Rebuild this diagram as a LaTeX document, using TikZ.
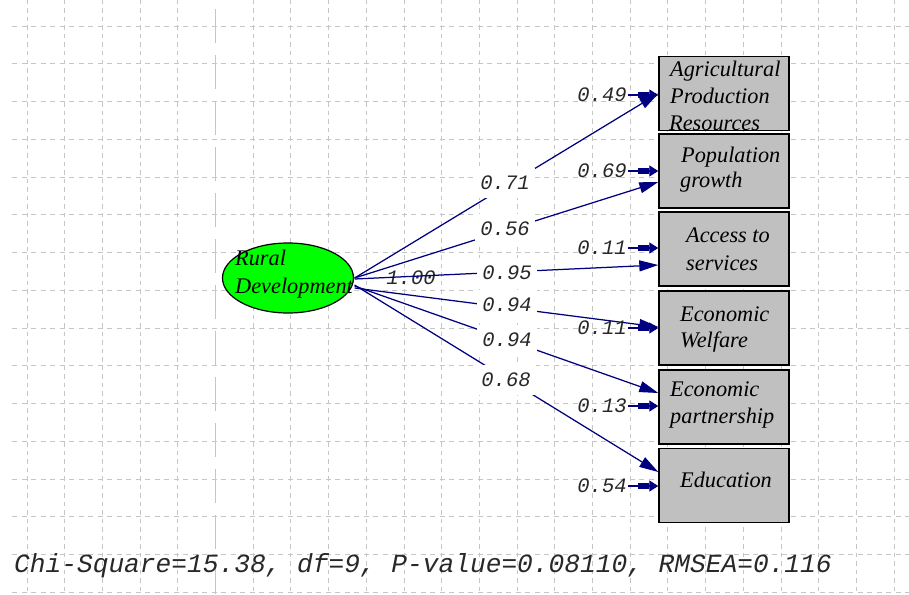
\documentclass[tikz,border=0pt]{standalone}
\usepackage{fontspec}
\setmainfont{Liberation Serif}
\setmonofont{Liberation Mono}
\usetikzlibrary{arrows.meta,shapes.geometric,calc}
\definecolor{boxgray}{RGB}{192,192,192}
\definecolor{pathblue}{RGB}{0,0,128}
\definecolor{gridgray}{RGB}{198,198,198}
\definecolor{latentgreen}{RGB}{0,255,0}
\definecolor{numink}{RGB}{40,40,40}
\newcommand\obsfont{\fontsize{22.3}{27}\selectfont\itshape}
\newcommand\coeffont{\fontsize{20.5}{24}\selectfont\ttfamily\itshape}
\newcommand\fitfont{\fontsize{26.2}{30}\selectfont\ttfamily\itshape}
\begin{document}
\begin{tikzpicture}[x=1pt,y=-1pt,
  gridh/.style={draw=gridgray,line width=0.9pt,dash pattern=on 5pt off 4.5pt},
  gridv/.style={draw=gridgray,line width=0.9pt,dash pattern=on 4.5pt off 4pt},
  gridpage/.style={draw=gridgray,line width=1.4pt,dash pattern=on 34pt off 12pt,dash phase=-9pt},
  latent/.style={ellipse,draw=black,line width=1.2pt,fill=latentgreen,
    minimum width=131pt,minimum height=70pt,inner sep=0pt},
  obsbox/.style={rectangle,draw=black,line width=1.4pt,fill=boxgray,
    minimum width=130pt,minimum height=74pt,inner sep=0pt},
  vartext/.style={anchor=base west,inner sep=0pt,font=\obsfont,text=black},
  coefplain/.style={inner sep=0pt,font=\coeffont,text=numink},
  coef/.style={coefplain,fill=white,minimum width=60pt,minimum height=30pt},
  errlabel/.style={coefplain,inner xsep=1pt},
  loading/.style={draw=pathblue,line width=1.25pt,
    -{Triangle[length=19pt,width=11pt]}},
  errarrow/.style={draw=pathblue,line width=1.25pt,
    -{Rectangle[length=11pt,width=6pt]Triangle[length=9pt,width=11pt]}},
  fitline/.style={anchor=base west,inner sep=0pt,font=\fitfont,text=numink}
]
\useasboundingbox (0,0) rectangle (909,594);
\fill[white] (0,0) rectangle (909,594);

% dashed background grid
\foreach \i in {0,...,4,6,7,...,23}
  \draw[gridv] ({27+37.7*\i},0) -- ({27+37.7*\i},594);
\draw[gridpage] ({27+37.7*5},0) -- ({27+37.7*5},594);
\foreach \j in {0,...,15}
  \draw[gridh] (12,{26+37.75*\j}) -- (909,{26+37.75*\j});

% latent variable
\node[latent] (rd) at (288,278) {};
\node[vartext] (rd1) at (235,265) {Rural};
\node[vartext] (rd2) at (235,293) {Development};
\node[coefplain] (var) at (411,278) {1.00};

% observed indicators
\node[obsbox] (b1) at (724,93.5) {};
\node[obsbox] (b2) at (724,171) {};
\node[obsbox] (b3) at (724,249) {};
\node[obsbox] (b4) at (724,328) {};
\node[obsbox] (b5) at (724,407) {};
\node[obsbox] (b6) at (724,485.5) {};

\begin{scope}
  \clip (b1.south west) rectangle (b1.north east);
  \node[vartext] (t1a) at (670,76) {Agricultural};
  \node[vartext] (t1b) at (670,103) {Production};
  \node[vartext] (t1c) at (669,130) {Resources};
\end{scope}
\node[vartext] (t2a) at (681,162) {Population};
\node[vartext] (t2b) at (680,187) {growth};
\node[vartext] (t3a) at (686,242) {Access to};
\node[vartext] (t3b) at (686,270) {services};
\node[vartext] (t4a) at (680,321) {Economic};
\node[vartext] (t4b) at (680,347) {Welfare};
\node[vartext] (t5a) at (670,396) {Economic};
\node[vartext] (t5b) at (670,423) {partnership};
\node[vartext] (t6a) at (680,487) {Education};

% start and end points of the loading paths
\coordinate (s1) at ($(rd.east)+(0.5,0)$);
\coordinate (s2) at ($(rd.east)+(0.5,0)$);
\coordinate (s3) at ($(rd.east)+(0.5,1)$);
\coordinate (s4) at ($(rd.east)+(0.5,10)$);
\coordinate (s5) at ($(rd.east)+(0.5,8)$);
\coordinate (s6) at ($(rd.east)+(0.5,7)$);
\coordinate (p1) at (b1.west);
\coordinate (p2) at ($(b2.west)+(0,11)$);
\coordinate (p3) at ($(b3.west)+(0,16)$);
\coordinate (p4) at ($(b4.west)+(0,-1)$);
\coordinate (p5) at ($(b5.west)+(0,-14)$);
\coordinate (p6) at ($(b6.west)+(0,-13.5)$);

\draw[loading] (s1) -- (p1);
\draw[loading] (s2) -- (p2);
\draw[loading] (s3) -- (p3);
\draw[loading] (s4) -- (p4);
\draw[loading] (s5) -- (p5);
\draw[loading] (s6) -- (p6);

% loadings
\node[coef] (c1) at (505,183) {0.71};
\node[coef] (c2) at (505,229) {0.56};
\node[coef] (c3) at (507,273) {0.95};
\node[coef] (c4) at (507,305) {0.94};
\node[coef] (c5) at (507,340) {0.94};
\node[coef] (c6) at (506,380) {0.68};

% error variances
\node[errlabel] (e1) at (602,95) {0.49};
\node[errlabel] (e2) at (602,171) {0.69};
\node[errlabel] (e3) at (602,248) {0.11};
\node[errlabel] (e4) at (602,328) {0.11};
\node[errlabel] (e5) at (602,406) {0.13};
\node[errlabel] (e6) at (602,486) {0.54};
\foreach \k in {1,...,6}
  \draw[errarrow] (e\k.east) -- (e\k.east -| b\k.west);

% fit statistics
\node[fitline] (fit) at (14,572) {Chi-Square=15.38, df=9, P-value=0.08110, RMSEA=0.116};
\end{tikzpicture}
\end{document}
